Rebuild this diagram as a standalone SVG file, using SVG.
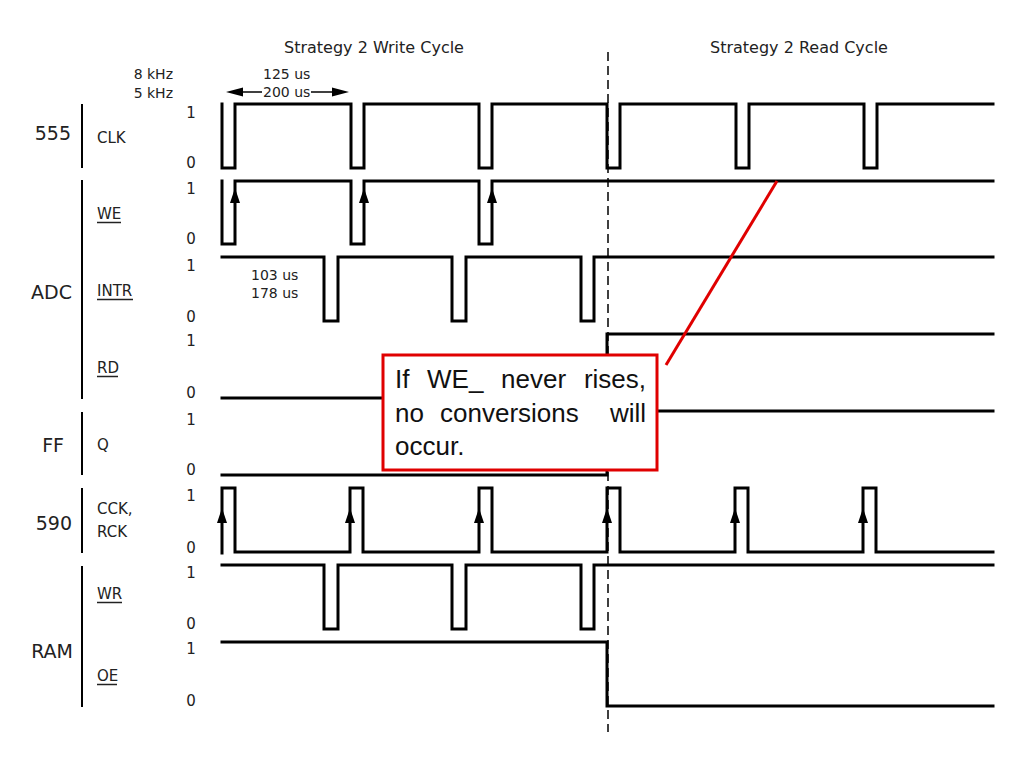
<svg xmlns="http://www.w3.org/2000/svg" width="1024" height="768" viewBox="0 0 1024 768">
<style>
  .wave { fill: none; stroke: #000; stroke-width: 3; stroke-linejoin: miter; stroke-linecap: square; }
  .bar { stroke: #000; stroke-width: 2; }
  .t { font-family: "DejaVu Sans", Verdana, sans-serif; fill: #222; }
  .title { font-size: 16px; }
  .small { font-size: 14px; }
  .lvl { font-size: 15px; text-anchor: middle; }
  .sig { font-size: 15px; }
  .grp { font-size: 19px; text-anchor: end; }
  .ul { stroke: #222; stroke-width: 1.5; }
  .note { font-family: "Liberation Sans", Arial, sans-serif; font-size: 26px; fill: #111; }
</style>
<defs>
  <path id="up" d="M0,0 L-5,15 L5,15 Z" fill="#000"/>
  <path id="lt" d="M0,0 L17,-4.5 L17,4.5 Z" fill="#000"/>
  <path id="rt" d="M0,0 L-17,-4.5 L-17,4.5 Z" fill="#000"/>
</defs>
<rect width="1024" height="768" fill="#fff"/>

<g id="titles">
  <text class="t title" x="284" y="53">Strategy 2 Write Cycle</text>
  <text class="t title" x="710" y="53">Strategy 2 Read Cycle</text>
</g>

<g id="timing">
  <text class="t small" x="173" y="79" text-anchor="end">8 kHz</text>
  <text class="t small" x="173" y="98" text-anchor="end">5 kHz</text>
  <text class="t small" x="263" y="79">125 us</text>
  <text class="t small" x="263" y="97">200 us</text>
  <line x1="240" y1="92" x2="262" y2="92" stroke="#000" stroke-width="1.5"/>
  <use href="#lt" x="226" y="92"/>
  <line x1="311" y1="92" x2="334" y2="92" stroke="#000" stroke-width="1.5"/>
  <use href="#rt" x="349" y="92"/>
  <text class="t small" x="251" y="280">103 us</text>
  <text class="t small" x="251" y="298">178 us</text>
</g>

<g id="group-labels">
  <text class="t grp" x="71" y="140">555</text>
  <line class="bar" x1="82" y1="104" x2="82" y2="168"/>
  <text class="t grp" x="72" y="299">ADC</text>
  <line class="bar" x1="82" y1="180" x2="82" y2="399"/>
  <text class="t grp" x="64" y="452">FF</text>
  <line class="bar" x1="82" y1="412" x2="82" y2="475"/>
  <text class="t grp" x="72" y="530">590</text>
  <line class="bar" x1="82" y1="488" x2="82" y2="553"/>
  <text class="t grp" x="73" y="658">RAM</text>
  <line class="bar" x1="82" y1="566" x2="82" y2="707"/>
</g>

<g id="levels">
  <text class="t lvl" x="191" y="118">1</text><text class="t lvl" x="191" y="168">0</text>
  <text class="t lvl" x="191" y="194">1</text><text class="t lvl" x="191" y="244">0</text>
  <text class="t lvl" x="191" y="271">1</text><text class="t lvl" x="191" y="322">0</text>
  <text class="t lvl" x="191" y="346">1</text><text class="t lvl" x="191" y="398">0</text>
  <text class="t lvl" x="191" y="425">1</text><text class="t lvl" x="191" y="475">0</text>
  <text class="t lvl" x="191" y="501">1</text><text class="t lvl" x="191" y="553">0</text>
  <text class="t lvl" x="191" y="578">1</text><text class="t lvl" x="191" y="629">0</text>
  <text class="t lvl" x="191" y="654">1</text><text class="t lvl" x="191" y="706">0</text>
</g>

<g id="sig-clk">
  <text class="t sig" x="97" y="143">CLK</text>
  <path class="wave" d="M222,104 V168 H235 V104 H351 V168 H364 V104 H479 V168 H492 V104 H607 V168 H620 V104 H736 V168 H749 V104 H864 V168 H877 V104 H993"/>
</g>

<g id="sig-we">
  <text class="t sig" x="97" y="219">WE</text>
  <line class="ul" x1="97" y1="222.5" x2="121" y2="222.5"/>
  <path class="wave" d="M222,181 V244 H235 V181 H351 V244 H364 V181 H479 V244 H492 V181 H993"/>
  <use href="#up" x="235" y="188"/>
  <use href="#up" x="364" y="188"/>
  <use href="#up" x="492" y="188"/>
</g>

<g id="sig-intr">
  <text class="t sig" x="97" y="296">INTR</text>
  <line class="ul" x1="97" y1="299.5" x2="133" y2="299.5"/>
  <path class="wave" d="M222,257 H324 V321 H338 V257 H452 V321 H466 V257 H581 V321 H594 V257 H993"/>
</g>

<g id="sig-rd">
  <text class="t sig" x="97" y="373">RD</text>
  <line class="ul" x1="97" y1="376.5" x2="118" y2="376.5"/>
  <path class="wave" d="M222,398 H607 V334 H993"/>
</g>

<g id="sig-q">
  <text class="t sig" x="97" y="450">Q</text>
  <path class="wave" d="M222,475 H607 V411 H993"/>
</g>

<g id="sig-cck">
  <text class="t sig" x="97" y="514">CCK,</text>
  <text class="t sig" x="97" y="537">RCK</text>
  <path class="wave" d="M222,553 V488 H235 V552 H350 V488 H363 V552 H479 V488 H492 V552 H607 V488 H620 V552 H735 V488 H748 V552 H863 V488 H876 V552 H993"/>
  <use href="#up" x="222" y="508"/>
  <use href="#up" x="350" y="508"/>
  <use href="#up" x="479" y="508"/>
  <use href="#up" x="607" y="508"/>
  <use href="#up" x="735" y="508"/>
  <use href="#up" x="863" y="508"/>
</g>

<g id="sig-wr">
  <text class="t sig" x="97" y="599">WR</text>
  <line class="ul" x1="97" y1="602.5" x2="122" y2="602.5"/>
  <path class="wave" d="M222,565 H324 V629 H338 V565 H452 V629 H466 V565 H581 V629 H594 V565 H993"/>
</g>

<g id="sig-oe">
  <text class="t sig" x="97" y="681">OE</text>
  <line class="ul" x1="97" y1="684.5" x2="117" y2="684.5"/>
  <path class="wave" d="M222,642 H607 V706 H993"/>
</g>

<g id="divider">
  <line x1="608" y1="52" x2="608" y2="732" stroke="#000" stroke-width="1.5" stroke-dasharray="9 5"/>
</g>

<g id="note">
  <rect x="383" y="355" width="274" height="115" fill="#fff" stroke="#e00000" stroke-width="3"/>
  <text class="note" y="388"><tspan x="395">If</tspan><tspan x="427">WE_</tspan><tspan x="501">never</tspan><tspan x="646" text-anchor="end">rises,</tspan></text>
  <text class="note" y="422"><tspan x="395">no</tspan><tspan x="440">conversions</tspan><tspan x="646" text-anchor="end">will</tspan></text>
  <text class="note" y="455"><tspan x="395">occur.</tspan></text>
</g>

<g id="connectors">
  <line x1="666" y1="365" x2="777" y2="181" stroke="#e00000" stroke-width="3"/>
</g>
</svg>
